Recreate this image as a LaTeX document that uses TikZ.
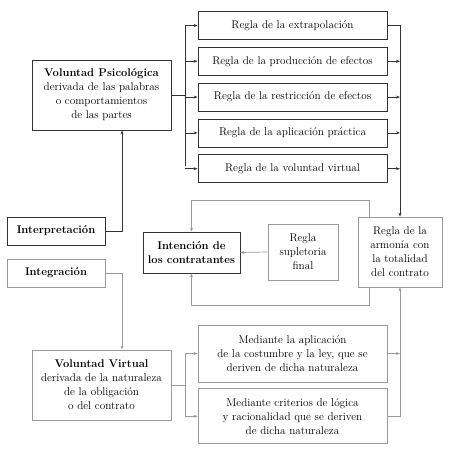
\documentclass[tikz,border=0pt]{standalone}
\usepackage{tikz}
\usetikzlibrary{positioning}
\usetikzlibrary{arrows.meta}

\definecolor{oscuro}{HTML}{333333}
\definecolor{claro}{HTML}{9A9A9A}

\tikzset{
    caja/.style={draw=oscuro, line width=0.8pt, fill=white, align=center,
        inner sep=1pt, text=black, font=\fontsize{11.2}{14}\selectfont},
    cajagris/.style={caja, draw=claro},
    regla/.style={caja, minimum width=189pt, minimum height=28pt},
    flecha/.style={draw=oscuro, line width=0.7pt, -{Stealth[length=4pt,width=3pt]}},
    flechagris/.style={flecha, draw=claro}
}

\begin{document}
\begin{tikzpicture}[x=1pt, y=-1pt]
    \useasboundingbox (0,0) rectangle (450,458);

    % Lazo de la intencion (detras de la caja de armonia)
    \coordinate (l2) at (369,200);
    \coordinate (l3) at (369,305);

    % Voluntad psicologica y sus reglas
    \node [caja, minimum width=139pt, minimum height=70pt] (vp) at (101.5,95)
        {\textbf{Voluntad Psicológica}\\derivada de las palabras\\o comportamientos\\de las partes};
    \node [regla] (r1) at (292.5,25.5) {Regla de la extrapolación};
    \node [regla, below=7pt of r1] (r2) {Regla de la producción de efectos};
    \node [regla, below=7pt of r2] (r3) {Regla de la restricción de efectos};
    \node [regla, below=7pt of r3] (r4) {Regla de la aplicación práctica};
    \node [regla, below=7pt of r4] (r5) {Regla de la voluntad virtual};

    % Cajas del medio
    \node [caja, minimum width=98pt, minimum height=28pt] (interp) at (56,231)
        {\textbf{Interpretación}};
    \node [cajagris, minimum width=98pt, minimum height=28pt] (integ) at (56,273)
        {\textbf{Integración}};
    \node [caja, minimum width=97pt, minimum height=41pt] (intenc) at (191.5,252.5)
        {\textbf{Intención de}\\\textbf{los contratantes}};
    \node [cajagris, minimum width=70pt, minimum height=56pt] (supl) at (303,252)
        {Regla\\supletoria\\final};

    \draw [flechagris, {Stealth[length=4pt,width=3pt]}-{Stealth[length=4pt,width=3pt]}]
        (intenc.north) |- (l2) -- (l3) -| (intenc.south);

    \node [cajagris, minimum width=84pt, minimum height=70pt] (armonia) at (400,252)
        {Regla de la\\armonía con\\la totalidad\\del contrato};

    % Voluntad virtual y sus criterios
    \node [cajagris, minimum width=139pt, minimum height=70pt] (vv) at (101.5,385)
        {\textbf{Voluntad Virtual}\\derivada de la naturaleza\\de la obligación\\o del contrato};
    \node [cajagris, minimum width=189pt, minimum height=57pt] (m1) at (292.5,353.5)
        {Mediante la aplicación\\de la costumbre y la ley, que se\\deriven de dicha naturaleza};
    \node [cajagris, minimum width=189pt, minimum height=55pt, below=6pt of m1] (m2)
        {Mediante criterios de lógica\\y racionalidad que se deriven\\de dicha naturaleza};

    % Conexiones de la parte de arriba
    \draw [oscuro, line width=0.7pt] (vp.east) -- (185,95);
    \draw [oscuro, line width=0.7pt] (185,25.5) -- (185,165.5);
    \foreach \r in {r1,r2,r3,r4,r5}
        \draw [flecha] (185,0 |- \r.west) -- (\r.west);
    \draw [flecha] (r1.east) -| (armonia.north);
    \foreach \r in {r2,r3,r4,r5}
        \draw [flecha] (\r.east) -- (armonia.north |- \r.east);
    \draw [flecha] (interp.east) -| (122,0 |- vp.south);
    \draw [flechagris] (supl.west) -- (intenc.east);

    % Conexiones de la parte de abajo
    \draw [flechagris] (integ.east) -| (122,0 |- vv.north);
    \draw [claro, line width=0.7pt] (vv.east) -- (185,385);
    \draw [claro, line width=0.7pt] (185,0 |- m1.west) -- (185,0 |- m2.west);
    \draw [flechagris] (185,0 |- m1.west) -- (m1.west);
    \draw [flechagris] (185,0 |- m2.west) -- (m2.west);
    \draw [flechagris] (m1.east) -- (armonia.south |- m1.east);
    \draw [flechagris] (m2.east) -| (armonia.south);
\end{tikzpicture}
\end{document}
